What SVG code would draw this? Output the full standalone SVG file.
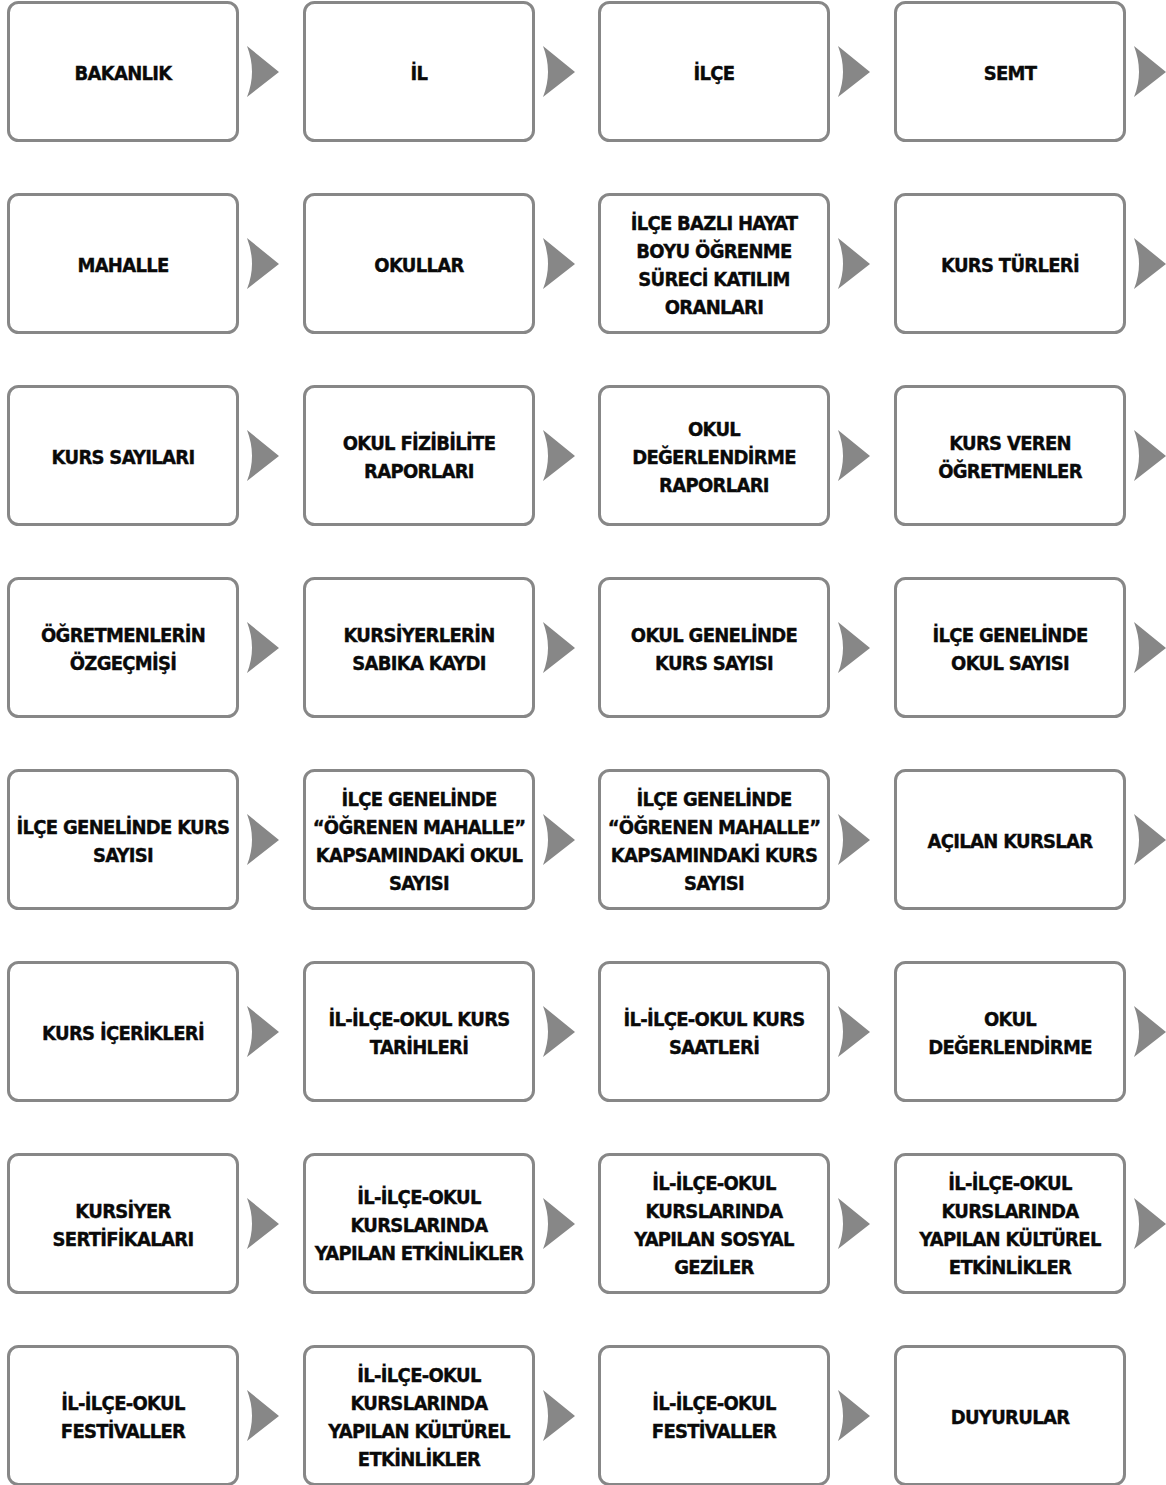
<svg xmlns="http://www.w3.org/2000/svg" xmlns:xlink="http://www.w3.org/1999/xlink" width="1166" height="1485" viewBox="0 0 1166 1485">
<style>
.box{fill:#fff;stroke:#878787;stroke-width:3}
.t{font-family:"DejaVu Sans Condensed","DejaVu Sans",sans-serif;font-weight:bold;font-size:20px;letter-spacing:-0.7px;fill:#0a0a0a;stroke:#0a0a0a;stroke-width:0.35;text-anchor:middle}
.chev{fill:#878787}
</style>
<defs>
<path id="ch" d="M0,0 L32,26 L0,51 Q10,26 0,0 Z"/>
<rect id="bx" width="229" height="138" rx="10"/>
</defs>
<rect width="1166" height="1485" fill="#fff"/>
<g id="connectors" class="chev">
<use xlink:href="#ch" x="247" y="46"/><use xlink:href="#ch" x="543" y="46"/><use xlink:href="#ch" x="838" y="46"/><use xlink:href="#ch" x="1134" y="46"/>
<use xlink:href="#ch" x="247" y="238"/><use xlink:href="#ch" x="543" y="238"/><use xlink:href="#ch" x="838" y="238"/><use xlink:href="#ch" x="1134" y="238"/>
<use xlink:href="#ch" x="247" y="430"/><use xlink:href="#ch" x="543" y="430"/><use xlink:href="#ch" x="838" y="430"/><use xlink:href="#ch" x="1134" y="430"/>
<use xlink:href="#ch" x="247" y="622"/><use xlink:href="#ch" x="543" y="622"/><use xlink:href="#ch" x="838" y="622"/><use xlink:href="#ch" x="1134" y="622"/>
<use xlink:href="#ch" x="247" y="814"/><use xlink:href="#ch" x="543" y="814"/><use xlink:href="#ch" x="838" y="814"/><use xlink:href="#ch" x="1134" y="814"/>
<use xlink:href="#ch" x="247" y="1006"/><use xlink:href="#ch" x="543" y="1006"/><use xlink:href="#ch" x="838" y="1006"/><use xlink:href="#ch" x="1134" y="1006"/>
<use xlink:href="#ch" x="247" y="1198"/><use xlink:href="#ch" x="543" y="1198"/><use xlink:href="#ch" x="838" y="1198"/><use xlink:href="#ch" x="1134" y="1198"/>
<use xlink:href="#ch" x="247" y="1390"/><use xlink:href="#ch" x="543" y="1390"/><use xlink:href="#ch" x="838" y="1390"/>
</g>
<!-- Row 1 -->
<g id="n1"><use xlink:href="#bx" class="box" x="8.5" y="2.5"/><text class="t" x="123" y="79.5">BAKANLIK</text></g>
<g id="n2"><use xlink:href="#bx" class="box" x="304.5" y="2.5"/><text class="t" x="419" y="79.5">İL</text></g>
<g id="n3"><use xlink:href="#bx" class="box" x="599.5" y="2.5"/><text class="t" x="714" y="79.5">İLÇE</text></g>
<g id="n4"><use xlink:href="#bx" class="box" x="895.5" y="2.5"/><text class="t" x="1010" y="79.5">SEMT</text></g>
<!-- Row 2 -->
<g id="n5"><use xlink:href="#bx" class="box" x="8.5" y="194.5"/><text class="t" x="123" y="271.5">MAHALLE</text></g>
<g id="n6"><use xlink:href="#bx" class="box" x="304.5" y="194.5"/><text class="t" x="419" y="271.5">OKULLAR</text></g>
<g id="n7"><use xlink:href="#bx" class="box" x="599.5" y="194.5"/><text class="t" x="714" y="229.5"><tspan x="714">İLÇE BAZLI HAYAT</tspan><tspan x="714" dy="28">BOYU ÖĞRENME</tspan><tspan x="714" dy="28">SÜRECİ KATILIM</tspan><tspan x="714" dy="28">ORANLARI</tspan></text></g>
<g id="n8"><use xlink:href="#bx" class="box" x="895.5" y="194.5"/><text class="t" x="1010" y="271.5">KURS TÜRLERİ</text></g>
<!-- Row 3 -->
<g id="n9"><use xlink:href="#bx" class="box" x="8.5" y="386.5"/><text class="t" x="123" y="463.5">KURS SAYILARI</text></g>
<g id="n10"><use xlink:href="#bx" class="box" x="304.5" y="386.5"/><text class="t" x="419" y="449.5"><tspan x="419">OKUL FİZİBİLİTE</tspan><tspan x="419" dy="28">RAPORLARI</tspan></text></g>
<g id="n11"><use xlink:href="#bx" class="box" x="599.5" y="386.5"/><text class="t" x="714" y="435.5"><tspan x="714">OKUL</tspan><tspan x="714" dy="28">DEĞERLENDİRME</tspan><tspan x="714" dy="28">RAPORLARI</tspan></text></g>
<g id="n12"><use xlink:href="#bx" class="box" x="895.5" y="386.5"/><text class="t" x="1010" y="449.5"><tspan x="1010">KURS VEREN</tspan><tspan x="1010" dy="28">ÖĞRETMENLER</tspan></text></g>
<!-- Row 4 -->
<g id="n13"><use xlink:href="#bx" class="box" x="8.5" y="578.5"/><text class="t" x="123" y="641.5"><tspan x="123">ÖĞRETMENLERİN</tspan><tspan x="123" dy="28">ÖZGEÇMİŞİ</tspan></text></g>
<g id="n14"><use xlink:href="#bx" class="box" x="304.5" y="578.5"/><text class="t" x="419" y="641.5"><tspan x="419">KURSİYERLERİN</tspan><tspan x="419" dy="28">SABIKA KAYDI</tspan></text></g>
<g id="n15"><use xlink:href="#bx" class="box" x="599.5" y="578.5"/><text class="t" x="714" y="641.5"><tspan x="714">OKUL GENELİNDE</tspan><tspan x="714" dy="28">KURS SAYISI</tspan></text></g>
<g id="n16"><use xlink:href="#bx" class="box" x="895.5" y="578.5"/><text class="t" x="1010" y="641.5"><tspan x="1010">İLÇE GENELİNDE</tspan><tspan x="1010" dy="28">OKUL SAYISI</tspan></text></g>
<!-- Row 5 -->
<g id="n17"><use xlink:href="#bx" class="box" x="8.5" y="770.5"/><text class="t" x="123" y="833.5"><tspan x="123">İLÇE GENELİNDE KURS</tspan><tspan x="123" dy="28">SAYISI</tspan></text></g>
<g id="n18"><use xlink:href="#bx" class="box" x="304.5" y="770.5"/><text class="t" x="419" y="805.5"><tspan x="419">İLÇE GENELİNDE</tspan><tspan x="419" dy="28">“ÖĞRENEN MAHALLE”</tspan><tspan x="419" dy="28">KAPSAMINDAKİ OKUL</tspan><tspan x="419" dy="28">SAYISI</tspan></text></g>
<g id="n19"><use xlink:href="#bx" class="box" x="599.5" y="770.5"/><text class="t" x="714" y="805.5"><tspan x="714">İLÇE GENELİNDE</tspan><tspan x="714" dy="28">“ÖĞRENEN MAHALLE”</tspan><tspan x="714" dy="28">KAPSAMINDAKİ KURS</tspan><tspan x="714" dy="28">SAYISI</tspan></text></g>
<g id="n20"><use xlink:href="#bx" class="box" x="895.5" y="770.5"/><text class="t" x="1010" y="847.5">AÇILAN KURSLAR</text></g>
<!-- Row 6 -->
<g id="n21"><use xlink:href="#bx" class="box" x="8.5" y="962.5"/><text class="t" x="123" y="1039.5">KURS İÇERİKLERİ</text></g>
<g id="n22"><use xlink:href="#bx" class="box" x="304.5" y="962.5"/><text class="t" x="419" y="1025.5"><tspan x="419">İL-İLÇE-OKUL KURS</tspan><tspan x="419" dy="28">TARİHLERİ</tspan></text></g>
<g id="n23"><use xlink:href="#bx" class="box" x="599.5" y="962.5"/><text class="t" x="714" y="1025.5"><tspan x="714">İL-İLÇE-OKUL KURS</tspan><tspan x="714" dy="28">SAATLERİ</tspan></text></g>
<g id="n24"><use xlink:href="#bx" class="box" x="895.5" y="962.5"/><text class="t" x="1010" y="1025.5"><tspan x="1010">OKUL</tspan><tspan x="1010" dy="28">DEĞERLENDİRME</tspan></text></g>
<!-- Row 7 -->
<g id="n25"><use xlink:href="#bx" class="box" x="8.5" y="1154.5"/><text class="t" x="123" y="1217.5"><tspan x="123">KURSİYER</tspan><tspan x="123" dy="28">SERTİFİKALARI</tspan></text></g>
<g id="n26"><use xlink:href="#bx" class="box" x="304.5" y="1154.5"/><text class="t" x="419" y="1203.5"><tspan x="419">İL-İLÇE-OKUL</tspan><tspan x="419" dy="28">KURSLARINDA</tspan><tspan x="419" dy="28">YAPILAN ETKİNLİKLER</tspan></text></g>
<g id="n27"><use xlink:href="#bx" class="box" x="599.5" y="1154.5"/><text class="t" x="714" y="1189.5"><tspan x="714">İL-İLÇE-OKUL</tspan><tspan x="714" dy="28">KURSLARINDA</tspan><tspan x="714" dy="28">YAPILAN SOSYAL</tspan><tspan x="714" dy="28">GEZİLER</tspan></text></g>
<g id="n28"><use xlink:href="#bx" class="box" x="895.5" y="1154.5"/><text class="t" x="1010" y="1189.5"><tspan x="1010">İL-İLÇE-OKUL</tspan><tspan x="1010" dy="28">KURSLARINDA</tspan><tspan x="1010" dy="28">YAPILAN KÜLTÜREL</tspan><tspan x="1010" dy="28">ETKİNLİKLER</tspan></text></g>
<!-- Row 8 -->
<g id="n29"><use xlink:href="#bx" class="box" x="8.5" y="1346.5"/><text class="t" x="123" y="1409.5"><tspan x="123">İL-İLÇE-OKUL</tspan><tspan x="123" dy="28">FESTİVALLER</tspan></text></g>
<g id="n30"><use xlink:href="#bx" class="box" x="304.5" y="1346.5"/><text class="t" x="419" y="1381.5"><tspan x="419">İL-İLÇE-OKUL</tspan><tspan x="419" dy="28">KURSLARINDA</tspan><tspan x="419" dy="28">YAPILAN KÜLTÜREL</tspan><tspan x="419" dy="28">ETKİNLİKLER</tspan></text></g>
<g id="n31"><use xlink:href="#bx" class="box" x="599.5" y="1346.5"/><text class="t" x="714" y="1409.5"><tspan x="714">İL-İLÇE-OKUL</tspan><tspan x="714" dy="28">FESTİVALLER</tspan></text></g>
<g id="n32"><use xlink:href="#bx" class="box" x="895.5" y="1346.5"/><text class="t" x="1010" y="1423.5">DUYURULAR</text></g>
</svg>
